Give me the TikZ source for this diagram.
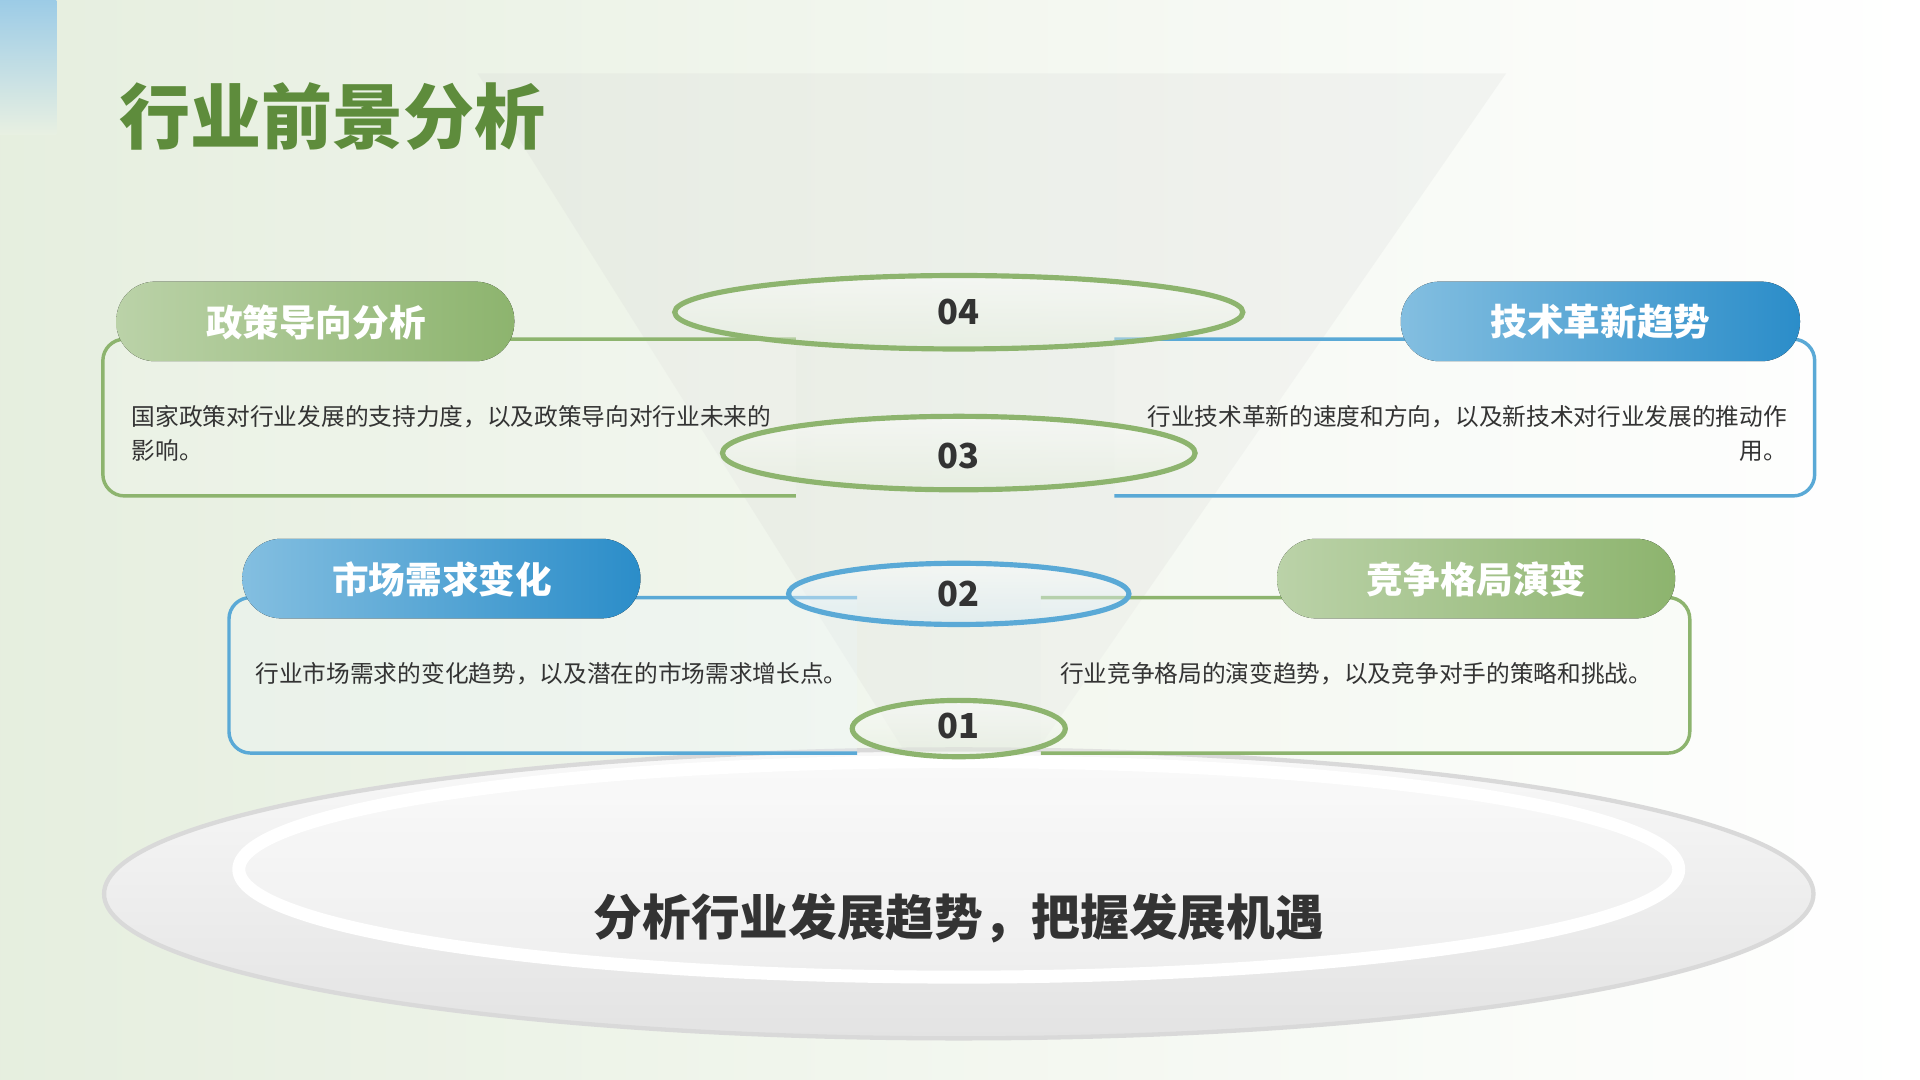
\documentclass[tikz,border=0pt]{standalone}
\usepackage{fontspec}
\setmainfont{Noto Sans CJK SC}
\usetikzlibrary{shapes.geometric}
\definecolor{gdark}{HTML}{5E8C3C}
\definecolor{gline}{HTML}{8DB46E}
\definecolor{bline}{HTML}{5AA9D6}
\definecolor{bdark}{HTML}{2B8DC9}
\definecolor{txt}{HTML}{333333}
\tikzset{
 pillg/.style={rounded corners=9pt,left color=gline!60!white,right color=gline,draw=none},
 pillb/.style={rounded corners=9pt,left color=bline!75!white,right color=bdark,draw=none},
 pilltext/.style={text=white,font=\bfseries\fontsize{8.5pt}{10pt}\selectfont},
 body/.style={text=txt,font=\fontsize{5.5pt}{8pt}\selectfont,inner sep=0},
 num/.style={text=txt,font=\bfseries\fontsize{8pt}{9pt}\selectfont},
 ringg/.style={draw=gline,line width=1.2pt,top color=white,bottom color=gline!25,fill opacity=0.45},
 ringb/.style={draw=bline,line width=1.2pt,top color=white,bottom color=bline!25,fill opacity=0.45},
}
\begin{document}
\begin{tikzpicture}[x=0.01cm,y=-0.01cm]
\useasboundingbox (0,0) rectangle (1568,882);
\shade[left color=gline!22,right color=white] (0,0) rectangle (1568,882);
\fill[white,opacity=0.5] (1465,0) rectangle (1568,882);
\shade[top color=bline!60,bottom color=gline!20] (0,0) rectangle (46,110);
% funnel
\fill[gray!40,opacity=0.16] (390,60) -- (1230,60) -- (790,695) -- cycle;
% bottom platform
\draw[gray!30,line width=1pt,top color=gray!5,bottom color=gray!22] (783,730) ellipse [x radius=698,y radius=118];
\draw[white,line width=3pt,fill=white,fill opacity=0.3] (783,710) ellipse [x radius=588,y radius=88];
\node[text=txt,font=\bfseries\fontsize{11.3pt}{14pt}\selectfont] (slogan) at (783,750) {分析行业发展趋势，把握发展机遇};
% cards
\draw[gline,line width=0.8pt,rounded corners=5pt,fill=white,fill opacity=0.15] (650,277) -- (84,277) -- (84,405) -- (650,405);
\draw[bline,line width=0.8pt,rounded corners=5pt,fill=white,fill opacity=0.15] (910,277) -- (1482,277) -- (1482,405) -- (910,405);
\draw[bline,line width=0.8pt,rounded corners=5pt,fill=bline!10,fill opacity=0.3] (700,488) -- (187,488) -- (187,615) -- (700,615);
\draw[gline,line width=0.8pt,rounded corners=5pt,fill=gline!10,fill opacity=0.3] (850,488) -- (1380,488) -- (1380,615) -- (850,615);
% rings
\draw[ringg] (783,255) ellipse [x radius=232,y radius=30];
\draw[ringg] (783,370) ellipse [x radius=193,y radius=30];
\draw[ringb] (783,485) ellipse [x radius=139,y radius=25];
\draw[ringg] (783,595) ellipse [x radius=87,y radius=23];
\node[num] (n4) at (783,255) {04};
\node[num] (n3) at (783,372) {03};
\node[num] (n2) at (783,485) {02};
\node[num] (n1) at (783,593) {01};
% pills
\fill[pillg] (95,230) rectangle (420,295);
\node[pilltext] (p1) at (258,263) {政策导向分析};
\fill[pillb] (1144,230) rectangle (1470,295);
\node[pilltext] (p2) at (1307,263) {技术革新趋势};
\fill[pillb] (198,440) rectangle (523,505);
\node[pilltext] (p3) at (361,473) {市场需求变化};
\fill[pillg] (1043,440) rectangle (1368,505);
\node[pilltext] (p4) at (1206,473) {竞争格局演变};
% texts
\node[body,anchor=west,align=left] (t1) at (107,354) {国家政策对行业发展的支持力度，以及政策导向对行业未来的\\影响。};
\node[body,anchor=east,align=right] (t2) at (1460,354) {行业技术革新的速度和方向，以及新技术对行业发展的推动作\\用。};
\node[body,anchor=west] (t3) at (208,550) {行业市场需求的变化趋势，以及潜在的市场需求增长点。};
\node[body,anchor=east] (t4) at (1350,550) {行业竞争格局的演变趋势，以及竞争对手的策略和挑战。};
% title
\node[anchor=west,inner sep=0,text=gdark,font=\bfseries\fontsize{16.5pt}{20pt}\selectfont] (title) at (97,95) {行业前景分析};
\end{tikzpicture}
\end{document}
